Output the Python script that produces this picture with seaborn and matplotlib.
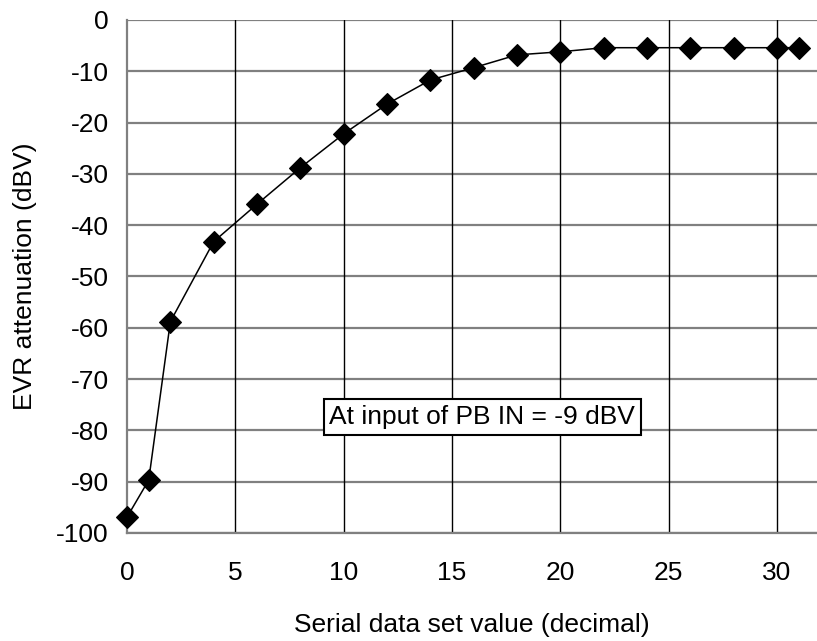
import numpy as np
import pandas as pd
import matplotlib
matplotlib.use("Agg")
import matplotlib.pyplot as plt
import seaborn as sns

# data
serial_value = [0, 1, 2, 4, 6, 8, 10, 12, 14, 16, 18, 20, 22, 24, 26, 28, 30, 31]
attenuation = [-96.9, -89.7, -58.8, -43.2, -35.9, -28.8, -22.2, -16.4, -11.7,
               -9.3, -6.8, -6.2, -5.4, -5.4, -5.4, -5.4, -5.4, -5.4]
x_ticks = [0, 5, 10, 15, 20, 25, 30]
y_ticks = [0, -10, -20, -30, -40, -50, -60, -70, -80, -90, -100]

df = pd.DataFrame({"x": serial_value, "y": attenuation})

sns.set_style("white")
plt.rcParams["font.family"] = ["Liberation Sans", "DejaVu Sans"]
plt.rcParams["axes.unicode_minus"] = False
plt.rcParams["text.color"] = "black"
plt.rcParams["axes.labelcolor"] = "black"

fig = plt.figure(figsize=(8.17, 6.41), dpi=100)
ax = fig.add_axes([0.1555, 0.1685, 0.8445, 0.8003])

sns.lineplot(data=df, x="x", y="y", ax=ax, color="black", linewidth=1.1,
             marker="D", markersize=11.5, markeredgecolor="black",
             markerfacecolor="black", markeredgewidth=0.8, zorder=3,
             clip_on=False)

ax.set_xlim(0, 31.85)
ax.set_ylim(-100, 0)
ax.set_xticks(x_ticks)
ax.set_yticks(y_ticks)

# grid: gray horizontal, black vertical
for yv in y_ticks:
    ax.axhline(yv, color="#808080", linewidth=1.6, zorder=1)
for xv in x_ticks[1:]:
    ax.axvline(xv, color="black", linewidth=1.0, zorder=1)

for side in ["left", "bottom"]:
    ax.spines[side].set_color("#808080")
    ax.spines[side].set_linewidth(1.6)
ax.spines["right"].set_visible(False)
ax.spines["top"].set_visible(False)

fs = 19
ax.tick_params(axis="both", length=0, labelsize=fs, colors="black")
ax.tick_params(axis="x", pad=20)
ax.tick_params(axis="y", pad=13)

ax.set_xlabel("Serial data set value (decimal)", fontsize=fs, labelpad=20, color="black")
ax.set_ylabel("EVR attenuation (dBV)", fontsize=fs, labelpad=14, color="black")

ax.text(16.4, -77.4, "At input of PB IN = -9 dBV", fontsize=fs, color="black",
        ha="center", va="center", zorder=4,
        bbox=dict(boxstyle="square,pad=0.22", facecolor="white",
                  edgecolor="black", linewidth=1.5))

fig.savefig("out.png", dpi=100)
